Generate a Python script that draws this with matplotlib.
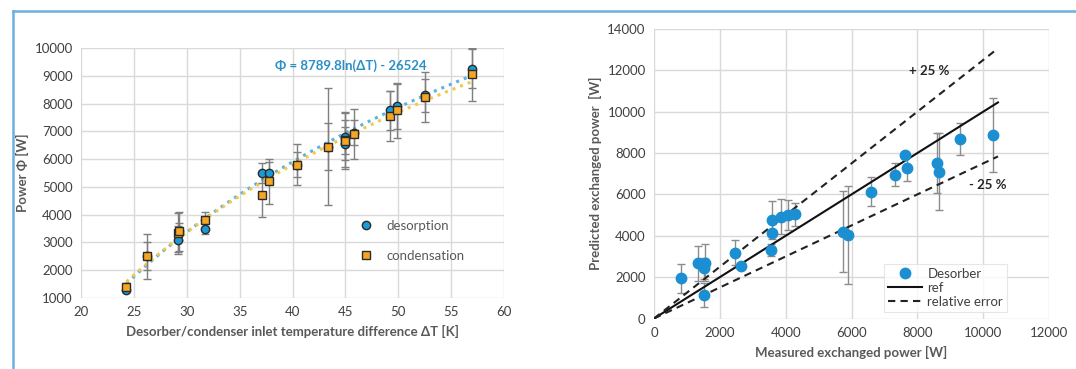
import numpy as np
import matplotlib
matplotlib.use("Agg")
import matplotlib.pyplot as plt
from matplotlib.lines import Line2D

plt.rcParams['font.family'] = ['Lato', 'DejaVu Sans']

# ---------------- Left chart data ----------------
dT = [24.3, 26.2, 29.2, 29.3, 31.7, 37.1, 37.8, 40.4, 43.4, 45.0, 45.0, 45.8, 49.2, 49.9, 52.5, 57.0]
phi_desorption = [1300, 2500, 3100, 3400, 3500, 5500, 5500, 5800, 6450, 6550, 6800, 6950, 7750, 7900, 8300, 9250]
err_desorption = [100, 500, 500, 300, 200, 350, 400, 450, 850, 600, 600, 450, 700, 800, 600, 700]
phi_condensation = [1400, 2500, 3350, 3400, 3800, 4700, 5200, 5800, 6450, 6700, 6650, 6900, 7550, 7750, 8250, 9050]
err_condensation = [150, 800, 700, 700, 300, 800, 800, 750, 2100, 1000, 1000, 900, 900, 1000, 900, 950]
fit_a, fit_b = 8789.8, -26524

left_xticks = [20, 25, 30, 35, 40, 45, 50, 55, 60]
left_yticks = [1000, 2000, 3000, 4000, 5000, 6000, 7000, 8000, 9000, 10000]

# ---------------- Right chart data ----------------
measured = [811, 1327, 1540, 1528, 1510, 2460, 2634, 3575, 3596, 3566, 3870, 4073, 4275,
            5750, 5902, 6604, 7318, 7622, 7695, 8587, 8651, 9285, 10288]
predicted = [1946, 2672, 2700, 2430, 1137, 3185, 2556, 4768, 4124, 3316, 4927, 5010, 5043,
             4201, 4041, 6138, 6946, 7914, 7270, 7512, 7106, 8688, 8882]
pred_err = [690, 850, 900, 500, 570, 620, 0, 920, 0, 300, 850, 720, 560,
            1950, 2380, 700, 560, 0, 600, 1450, 1850, 780, 1800]
ref_range = [0, 10450]
rel_error = 0.25

right_xticks = [0, 2000, 4000, 6000, 8000, 10000, 12000]
right_yticks = [0, 2000, 4000, 6000, 8000, 10000, 12000, 14000]

TXT = '#404040'
GRID = '#d9d9d9'
BLUE = '#1a9ad6'
ORANGE = '#f5a623'

fig = plt.figure(figsize=(10.76, 3.69), dpi=100)

# frame lines
fig.add_artist(Line2D([12.5/1076, 1.0], [1-10.5/369, 1-10.5/369], color='#6ab0e0', lw=1.8,
                      transform=fig.transFigure))
fig.add_artist(Line2D([12.5/1076, 12.5/1076], [0, 1-10.5/369], color='#6ab0e0', lw=1.8,
                      transform=fig.transFigure))

# ---------------- Left ----------------
ax1 = fig.add_axes([81/1076, 1-298/369, 423/1076, 250/369])
ax1.set_xlim(20, 60)
ax1.set_ylim(1000, 10000)
ax1.set_xticks(left_xticks)
ax1.set_yticks(left_yticks)
ax1.grid(True, color=GRID, lw=1.0)
ax1.set_axisbelow(True)
for s in ax1.spines.values():
    s.set_visible(False)
ax1.tick_params(length=0, labelsize=9.5, colors=TXT, pad=6)

dT_arr = np.array(dT)
xs = np.linspace(min(dT), max(dT), 200)
ax1.plot(xs, fit_a*np.log(xs)+fit_b, ':', color='#5ab4e0', lw=2.2, zorder=2)
cf = np.polyfit(np.log(dT_arr), np.array(phi_condensation), 1)
ax1.plot(xs, np.polyval(cf, np.log(xs)), ':', color='#f2c94c', lw=2.2, zorder=2)

ax1.errorbar(dT, phi_condensation, yerr=err_condensation, fmt='none', ecolor='#7f7f7f',
             elinewidth=1.0, capsize=3, zorder=3)
ax1.errorbar(dT, phi_desorption, yerr=err_desorption, fmt='none', ecolor='#7f7f7f',
             elinewidth=1.0, capsize=3, zorder=3)
ax1.plot(dT, phi_desorption, 'o', ms=6, mfc=BLUE, mec='#2b2b2b', mew=1.0, ls='none',
         zorder=4, label='desorption')
ax1.plot(dT, phi_condensation, 's', ms=6.3, mfc=ORANGE, mec='#2b2b2b', mew=1.0, ls='none',
         zorder=5, label='condensation')

ax1.set_xlabel('Desorber/condenser inlet temperature difference ΔT [K]', fontsize=9.5,
               color='#595959', fontweight='bold', labelpad=5)
ax1.set_ylabel('Power Φ [W]', fontsize=9.5, color='#595959', fontweight='bold', labelpad=4)
ax1.text(38.3, 9380, 'Φ = 8789.8ln(ΔT) - 26524', fontsize=9.5, color='#2a8fc4',
         fontweight='bold', ha='left', va='center')
leg1 = ax1.legend(loc='upper left', bbox_to_anchor=(0.628, 0.36), frameon=False,
                  fontsize=9.5, labelspacing=1.35, handletextpad=0.9, handlelength=1.2)
for t in leg1.get_texts():
    t.set_color('#595959')

# ---------------- Right ----------------
ax2 = fig.add_axes([654/1076, 1-318.5/369, 395/1076, 289.5/369])
ax2.set_xlim(0, 12000)
ax2.set_ylim(0, 14000)
ax2.set_xticks(right_xticks)
ax2.set_yticks(right_yticks)
ax2.grid(True, color=GRID, lw=1.0)
ax2.set_axisbelow(True)
for s in ax2.spines.values():
    s.set_visible(False)
ax2.tick_params(length=0, labelsize=9.5, colors=TXT, pad=6)

rr = np.array(ref_range)
ax2.plot(rr, rr, '-', color='#111111', lw=1.5, label='ref', zorder=3)
ax2.plot(rr, rr*(1+rel_error), '--', color='#222222', lw=1.5, dashes=(3.5, 2.5),
         label='relative error', zorder=3)
ax2.plot(rr, rr*(1-rel_error), '--', color='#222222', lw=1.5, dashes=(3.5, 2.5), zorder=3)
ax2.errorbar(measured, predicted, yerr=pred_err, fmt='none', ecolor='#8c8c8c',
             elinewidth=1.0, capsize=3, zorder=2)
ax2.plot(measured, predicted, 'o', ms=7.5, color='#1b8fd2', ls='none', label='Desorber',
         zorder=4)

ax2.text(8350, 11950, '+ 25 %', fontsize=9.5, color='#262626', fontweight='bold',
         ha='center', va='center')
ax2.text(10150, 6450, '- 25 %', fontsize=9.5, color='#262626', fontweight='bold',
         ha='center', va='center')
ax2.set_xlabel('Measured exchanged power [W]', fontsize=9.5, color='#595959',
               fontweight='bold', labelpad=5)
ax2.set_ylabel('Predicted exchanged power  [W]', fontsize=9.5, color='#595959',
               fontweight='bold', labelpad=4)
h, l = ax2.get_legend_handles_labels()
order = [l.index('Desorber'), l.index('ref'), l.index('relative error')]
leg2 = ax2.legend([h[i] for i in order], [l[i] for i in order], loc='lower right',
                  bbox_to_anchor=(0.91, 0.0), frameon=True, fontsize=9.5,
                  labelspacing=0.15, handletextpad=0.4, handlelength=2.6,
                  borderpad=0.3, fancybox=False)
leg2.get_frame().set_edgecolor('#e0e0e0')
leg2.get_frame().set_linewidth(0.8)
for t in leg2.get_texts():
    t.set_color('#404040')

fig.savefig('out.png', dpi=100)
